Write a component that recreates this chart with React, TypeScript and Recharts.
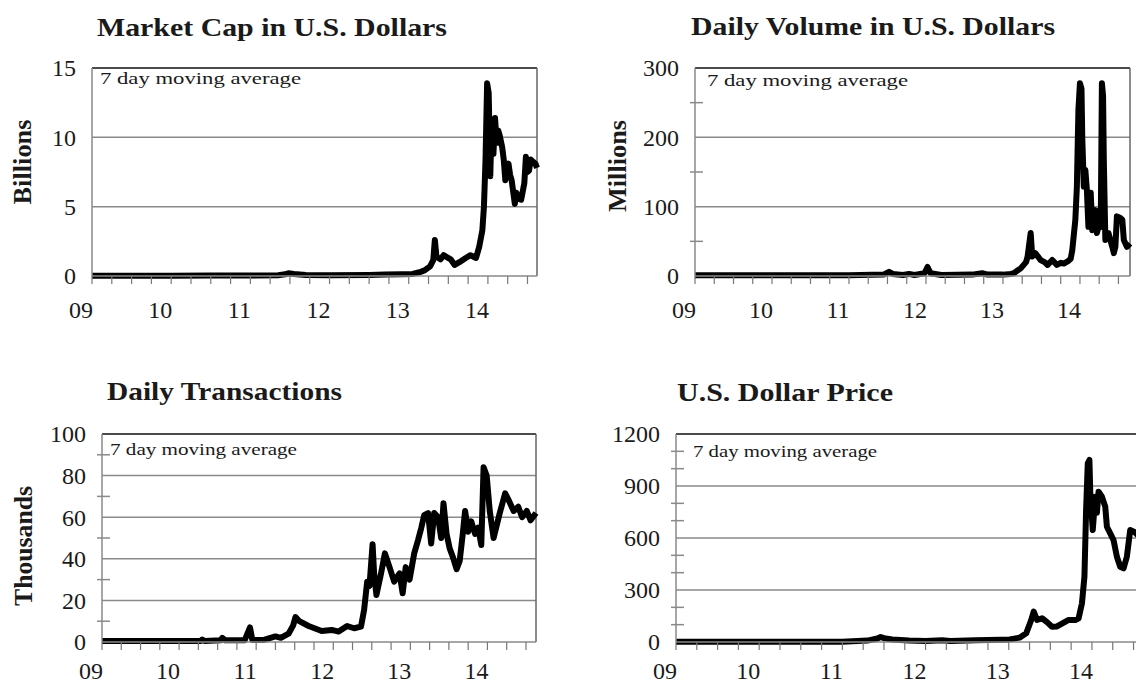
import { LineChart, Line, XAxis, YAxis, ReferenceLine } from 'recharts'

const FONT = '"Liberation Serif", "Times New Roman", serif'

// decimal years, labelled 09 .. 14, with a tick every quarter
const years = [2009, 2010, 2011, 2012, 2013, 2014]

// Market cap, billions of USD
const capDates = [2009.0, 2010.0, 2010.5, 2011.0, 2011.35, 2011.44, 2011.48, 2011.55, 2011.7, 2012.0, 2012.5, 2012.7, 2012.9, 2013.05, 2013.15, 2013.2, 2013.27, 2013.31, 2013.33, 2013.35, 2013.4, 2013.44, 2013.47, 2013.53, 2013.58, 2013.64, 2013.72, 2013.78, 2013.85, 2013.89, 2013.93, 2013.95, 2013.97, 2013.99, 2014.01, 2014.03, 2014.04, 2014.05, 2014.07, 2014.09, 2014.11, 2014.13, 2014.15, 2014.18, 2014.2, 2014.22, 2014.24, 2014.26, 2014.28, 2014.3, 2014.34, 2014.36, 2014.38, 2014.42, 2014.46, 2014.48, 2014.5, 2014.52, 2014.54, 2014.56, 2014.6, 2014.62]
const capValues = [0.02, 0.02, 0.03, 0.04, 0.06, 0.12, 0.2, 0.15, 0.08, 0.06, 0.08, 0.1, 0.12, 0.15, 0.3, 0.4, 0.7, 1.15, 2.6, 1.4, 1.2, 1.5, 1.4, 1.2, 0.8, 1.0, 1.3, 1.5, 1.3, 2.1, 3.3, 5.0, 8.4, 13.9, 13.2, 7.2, 9.5, 10.3, 8.8, 11.4, 9.6, 10.5, 10.1, 9.3, 8.4, 6.9, 7.8, 8.1, 7.3, 6.9, 5.2, 6.0, 5.6, 5.5, 6.7, 8.6, 7.5, 7.6, 8.4, 8.3, 8.1, 7.8]

// Daily volume, millions of USD
const volDates = [2009.0, 2011.0, 2011.45, 2011.52, 2011.57, 2011.7, 2011.78, 2011.85, 2011.98, 2012.02, 2012.06, 2012.2, 2012.6, 2012.73, 2012.8, 2013.0, 2013.1, 2013.14, 2013.23, 2013.3, 2013.32, 2013.36, 2013.38, 2013.42, 2013.49, 2013.54, 2013.58, 2013.64, 2013.7, 2013.75, 2013.79, 2013.84, 2013.88, 2013.9, 2013.94, 2013.96, 2013.98, 2014.0, 2014.02, 2014.03, 2014.05, 2014.07, 2014.09, 2014.11, 2014.14, 2014.16, 2014.18, 2014.2, 2014.22, 2014.25, 2014.27, 2014.285, 2014.3, 2014.31, 2014.33, 2014.37, 2014.4, 2014.42, 2014.44, 2014.46, 2014.48, 2014.52, 2014.55, 2014.57, 2014.61, 2014.65]
const volValues = [1, 1, 2, 6, 3, 1.5, 3, 1.5, 4, 13, 4, 1.5, 2, 4, 2, 2, 3, 4, 11, 20, 28, 62, 28, 33, 23, 20, 16, 23, 16, 19, 18, 21, 25, 37, 81, 129, 240, 278, 270, 200, 129, 153, 124, 71, 120, 66, 80, 95, 62, 75, 71, 278, 260, 167, 52, 62, 50, 42, 33, 42, 86, 84, 81, 52, 42, 47]

// Daily transactions, thousands
const txDates = [2009.0, 2010.0, 2010.28, 2010.3, 2010.33, 2010.54, 2010.56, 2010.6, 2010.85, 2010.92, 2010.95, 2011.1, 2011.25, 2011.32, 2011.42, 2011.48, 2011.51, 2011.56, 2011.68, 2011.85, 2011.98, 2012.07, 2012.18, 2012.27, 2012.36, 2012.4, 2012.44, 2012.47, 2012.51, 2012.53, 2012.56, 2012.62, 2012.67, 2012.73, 2012.79, 2012.86, 2012.9, 2012.94, 2012.99, 2013.05, 2013.1, 2013.14, 2013.18, 2013.23, 2013.27, 2013.31, 2013.36, 2013.4, 2013.43, 2013.47, 2013.51, 2013.55, 2013.6, 2013.64, 2013.68, 2013.71, 2013.75, 2013.79, 2013.84, 2013.88, 2013.92, 2013.95, 2013.99, 2014.03, 2014.08, 2014.12, 2014.16, 2014.23, 2014.27, 2014.34, 2014.4, 2014.45, 2014.51, 2014.56, 2014.63]
const txValues = [0.5, 0.5, 0.5, 1.2, 0.5, 0.8, 2, 0.8, 0.8, 7, 1, 1, 2.7, 2, 4, 8, 12, 10, 7.7, 5.3, 5.8, 5.0, 7.7, 6.6, 7.4, 15.4, 29, 27, 47, 33, 22.6, 33, 42.6, 36, 29, 33, 23.4, 36, 30, 42.6, 49, 54.6, 61, 62, 47.4, 62, 60, 50, 66.7, 52, 45, 41, 35, 39, 52, 63, 53, 58, 52, 55, 46.6, 84, 80, 63, 50, 56, 62, 71.5, 68.6, 63, 65, 60, 63, 58.5, 62]

// USD price
const priceDates = [2009.0, 2010.5, 2011.0, 2011.3, 2011.42, 2011.46, 2011.5, 2011.6, 2011.8, 2012.0, 2012.2, 2012.3, 2012.6, 2012.9, 2013.01, 2013.13, 2013.21, 2013.27, 2013.3, 2013.34, 2013.4, 2013.46, 2013.52, 2013.58, 2013.64, 2013.72, 2013.8, 2013.84, 2013.88, 2013.91, 2013.93, 2013.95, 2013.97, 2013.98, 2014.01, 2014.04, 2014.06, 2014.08, 2014.12, 2014.16, 2014.18, 2014.22, 2014.26, 2014.3, 2014.34, 2014.38, 2014.42, 2014.46, 2014.5, 2014.53, 2014.58, 2014.62, 2014.65]
const priceValues = [1, 1, 2, 8, 20, 29, 22, 14, 8, 6, 10, 6, 10, 13, 15, 25, 50, 127, 175, 127, 137, 115, 88, 90, 106, 127, 127, 137, 223, 377, 762, 1031, 1050, 858, 646, 838, 746, 867, 838, 781, 665, 627, 588, 492, 434, 425, 492, 646, 638, 627, 600, 590, 595]

const TEXT = '#1a1a1a'
const GRID = '#8a8a8a'

type PanelProps = {
  dates: number[]
  values: number[]
  yMax: number
  yMajor: number[]
  yMinor: number[]
  xEnd: number
  left: number
  top: number
  width: number
  plotLeft: number
  plotRight: number
  plotTop: number
  labelGap: number
}

const PLOT_H = 208
const XAXIS_H = 62
const Y_GAP = 16

function renderYTick(major: number[]) {
  return (props: any) => {
    const { x, y, payload } = props
    const v = payload.value
    if (major.includes(v)) {
      return (
        <text x={x} y={y} dy="0.35em" textAnchor="end" fontSize={24} fontFamily={FONT} fill={TEXT}>{v}</text>
      )
    }
    const ax = x + Y_GAP
    return <line x1={ax - 5} x2={ax + 8} y1={y} y2={y} stroke={GRID} strokeWidth={1.5} />
  }
}

function renderXTick(props: any) {
  const { x, y, payload } = props
  const v = payload.value
  if (Math.abs(v - Math.round(v)) > 1e-6) return <g />
  return (
    <text x={x - 11} y={y} dy="0.71em" textAnchor="middle" fontSize={24} fontFamily={FONT} fill={TEXT}>
      {String(Math.round(v)).slice(2)}
    </text>
  )
}

function Panel(p: PanelProps) {
  const rows = p.dates.map((t, i) => ({ t, v: p.values[i] }))
  const xTicks = years.flatMap(y => [y, y + 0.25, y + 0.5, y + 0.75]).filter(t => t <= p.xEnd)
  const grid = p.yMajor.filter(v => v > 0 && v < p.yMax)
  const marginTop = p.plotTop - p.top
  return (
    <div style={{ position: 'absolute', left: p.left, top: p.top }}>
      <LineChart
        width={p.width}
        height={marginTop + PLOT_H + XAXIS_H}
        data={rows}
        margin={{ top: marginTop, right: p.left + p.width - p.plotRight, bottom: 0, left: 0 }}
      >
        <XAxis
          type="number" dataKey="t" domain={[2009, p.xEnd]} ticks={xTicks} interval={0}
          height={XAXIS_H} tickSize={8} tickMargin={p.labelGap} tick={renderXTick}
          axisLine={{ stroke: GRID, strokeWidth: 1.5 }} tickLine={{ stroke: '#777', strokeWidth: 1.2 }}
        />
        <YAxis
          type="number" domain={[0, p.yMax]} ticks={[...p.yMajor, ...p.yMinor].sort((a, b) => a - b)} interval={0}
          width={p.plotLeft - p.left} tickSize={0} tickMargin={Y_GAP} tickLine={false} tick={renderYTick(p.yMajor)}
          axisLine={{ stroke: GRID, strokeWidth: 1.5 }}
        />
        {grid.map(v => <ReferenceLine key={v} y={v} stroke={GRID} strokeWidth={1.5} />)}
        <ReferenceLine y={p.yMax} stroke="#111" strokeWidth={1.5} />
        <ReferenceLine x={p.xEnd} stroke="#666" strokeWidth={1.5} />
        <Line
          type="linear" dataKey="v" stroke="#000" strokeWidth={6} strokeLinejoin="round"
          dot={false} isAnimationActive={false}
        />
      </LineChart>
    </div>
  )
}

const titles = [
  { text: 'Market Cap in U.S. Dollars', x: 97, y: 36, w: 350 },
  { text: 'Daily Volume in U.S. Dollars', x: 691, y: 35, w: 364 },
  { text: 'Daily Transactions', x: 107, y: 400, w: 235 },
  { text: 'U.S. Dollar Price', x: 677, y: 401, w: 216 },
]

const notes = [
  { x: 100, y: 84, w: 201 },
  { x: 707, y: 86, w: 201 },
  { x: 110, y: 455, w: 187 },
  { x: 693, y: 457, w: 184 },
]

const units = [
  { text: 'Billions', x: 22, y: 162, w: 85 },
  { text: 'Millions', x: 617, y: 166, w: 92 },
  { text: 'Thousands', x: 23, y: 546, w: 120 },
]

export default function App() {
  return (
    <div style={{ position: 'absolute', left: 0, top: 0, width: 1136, height: 686, overflow: 'hidden', background: '#fff' }}>
      <Panel dates={capDates} values={capValues} yMax={15} yMajor={[0, 5, 10, 15]} yMinor={[]}
        xEnd={2014.62} left={0} top={0} width={560} plotLeft={92} plotRight={537} plotTop={68} labelGap={17} />
      <Panel dates={volDates} values={volValues} yMax={300} yMajor={[0, 100, 200, 300]} yMinor={[50, 150, 250]}
        xEnd={2014.65} left={590} top={0} width={546} plotLeft={695} plotRight={1130} plotTop={68} labelGap={17} />
      <Panel dates={txDates} values={txValues} yMax={100} yMajor={[0, 20, 40, 60, 80, 100]} yMinor={[10, 30, 50, 70, 90]}
        xEnd={2014.63} left={0} top={360} width={560} plotLeft={102} plotRight={536} plotTop={434} labelGap={12} />
      <Panel dates={priceDates} values={priceValues} yMax={1200} yMajor={[0, 300, 600, 900, 1200]} yMinor={[100, 200, 400, 500, 700, 800, 1000, 1100]}
        xEnd={2014.65} left={590} top={360} width={570} plotLeft={676} plotRight={1146} plotTop={434} labelGap={12} />

      <svg width={1136} height={686} style={{ position: 'absolute', left: 0, top: 0, pointerEvents: 'none' }}>
        {titles.map(t => (
          <text key={t.text} x={t.x} y={t.y} textLength={t.w} lengthAdjust="spacingAndGlyphs"
            fontSize={25} fontWeight="bold" fontFamily={FONT} fill={TEXT}>{t.text}</text>
        ))}
        {notes.map((n, i) => (
          <text key={i} x={n.x} y={n.y} textLength={n.w} lengthAdjust="spacingAndGlyphs"
            fontSize={17} fontFamily={FONT} fill={TEXT}>7 day moving average</text>
        ))}
        {units.map(u => (
          <text key={u.text} x={u.x} y={u.y} dy="0.35em" textAnchor="middle" transform={`rotate(-90 ${u.x} ${u.y})`}
            textLength={u.w} lengthAdjust="spacingAndGlyphs" fontSize={25} fontWeight="bold" fontFamily={FONT} fill={TEXT}>{u.text}</text>
        ))}
      </svg>
    </div>
  )
}
